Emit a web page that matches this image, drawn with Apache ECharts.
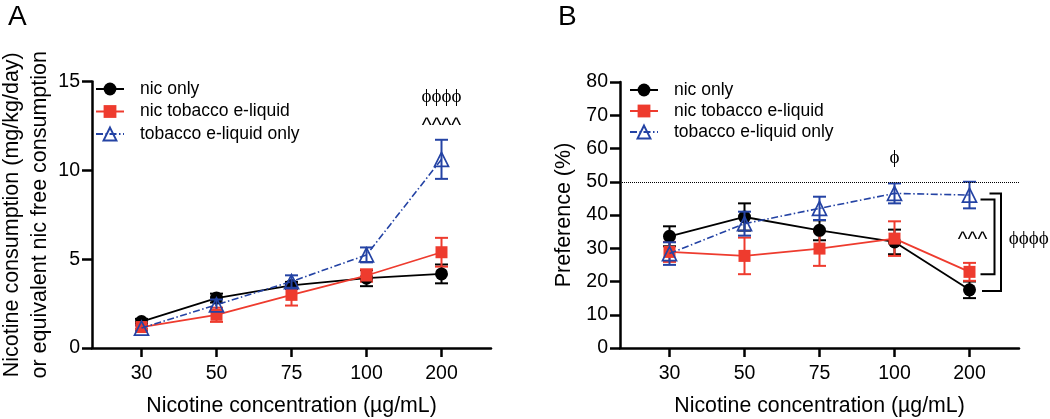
<!DOCTYPE html>
<html>
<head>
<meta charset="utf-8">
<script src="https://cdn.jsdelivr.net/npm/echarts@6/dist/echarts.min.js"></script>
<style>
  html, body { margin: 0; padding: 0; background: #fff; }
  #chart { width: 1050px; height: 419px; }
</style>
</head>
<body>
<div id="chart"></div>
<script>
const concentrations = ['30', '50', '75', '100', '200'];
const groupNames = ['nic only', 'nic tobacco e-liquid', 'tobacco e-liquid only'];

// A: nicotine consumption (mg/kg/day), mean + SEM
const consNic = [1.49, 2.81, 3.52, 3.93, 4.17];
const consNicSem = [0.15, 0.25, 0.2, 0.45, 0.53];
const consNicTob = [1.18, 1.87, 2.99, 4.08, 5.39];
const consNicTobSem = [0.1, 0.4, 0.6, 0.35, 0.81];
const consTob = [1.12, 2.43, 3.74, 5.24, 10.62];
const consTobSem = [0.15, 0.3, 0.35, 0.42, 1.1];

// B: preference (%), mean + SEM
const prefNic = [33.6, 39.4, 35.4, 31.9, 17.5];
const prefNicSem = [3.0, 4.1, 3.0, 3.7, 2.5];
const prefNicTob = [28.9, 27.7, 29.9, 32.9, 22.9];
const prefNicTobSem = [3.0, 5.5, 5.2, 5.2, 2.7];
const prefTob = [28.4, 37.4, 42.0, 46.5, 46.0];
const prefTobSem = [3.4, 3.6, 3.5, 3.0, 4.0];

const chanceLevel = 50;

// significance marks: [x (category index), y value, text]
const marksA = [[4, 14.1, 'ϕϕϕϕ'], [4, 12.47, '^^^^']];
const marksB = [[3, 57, 'ϕ'], [4.04, 32.4, '^^^'], [4.79, 32.9, 'ϕϕϕϕ']];

const font = 'Liberation Sans, Arial, sans-serif';
const symFont = 'Liberation Serif, DejaVu Serif, serif';
const colors = ['#000000', '#ee3b2e', '#2443a4'];
const symbols = ['circle', 'rect', 'triangle'];
const symbolSizes = [13, 12, 14];

function lineSeries(i, values, axis) {
  const s = {
    name: groupNames[i],
    type: 'line',
    xAxisIndex: axis, yAxisIndex: axis,
    data: values.map((v, k) => [k, v]),
    symbol: symbols[i],
    symbolSize: symbolSizes[i],
    z: 3 + i,
    lineStyle: { color: colors[i], width: 1.8 },
    itemStyle: { color: colors[i] }
  };
  if (i === 2) {
    s.lineStyle.type = [7, 2.5, 1.5, 2.5];
    s.lineStyle.width = 1.6;
    s.itemStyle = { color: 'rgba(255,255,255,0)', borderColor: colors[i], borderWidth: 1.7 };
  }
  return s;
}

function errorSeries(i, values, sem, axis) {
  return {
    type: 'custom',
    xAxisIndex: axis, yAxisIndex: axis,
    z: 2 + i,
    clip: false,
    silent: true,
    data: values.map((v, k) => [k, v, sem[k]]),
    encode: { x: 0, y: 1 },
    renderItem: (params, api) => {
      const x = api.value(0), m = api.value(1), e = api.value(2);
      const top = api.coord([x, m + e]);
      const bot = api.coord([x, m - e]);
      const half = 6.5;
      const style = { stroke: colors[i], lineWidth: 2 };
      return {
        type: 'group',
        children: [
          { type: 'line', shape: { x1: top[0], y1: top[1], x2: bot[0], y2: bot[1] }, style },
          { type: 'line', shape: { x1: top[0] - half, y1: top[1], x2: top[0] + half, y2: top[1] }, style },
          { type: 'line', shape: { x1: bot[0] - half, y1: bot[1], x2: bot[0] + half, y2: bot[1] }, style }
        ]
      };
    }
  };
}

function markSeries(marks, axis) {
  return {
    type: 'custom',
    xAxisIndex: axis, yAxisIndex: axis,
    clip: false,
    silent: true,
    z: 10,
    data: marks,
    encode: { x: 0, y: 1 },
    renderItem: (params, api) => {
      const p = api.coord([api.value(0), api.value(1)]);
      const txt = marks[params.dataIndex][2];
      const isPhi = txt.indexOf('ϕ') >= 0;
      return {
        type: 'text',
        x: p[0], y: p[1],
        style: {
          text: txt, fill: '#000',
          font: (isPhi ? 19 : 21) + 'px ' + (isPhi ? symFont : font),
          align: 'center', verticalAlign: 'middle'
        }
      };
    }
  };
}

// brackets at 200 µg/mL in B: tobacco only vs nic tobacco, tobacco only vs nic only
const bracketB = {
  type: 'custom',
  xAxisIndex: 1, yAxisIndex: 1,
  clip: false, silent: true, z: 10,
  data: [[4, prefTob[4], prefNicTob[4], 0], [4, prefTob[4], prefNic[4], 1]],
  encode: { x: 0, y: 1 },
  renderItem: (params, api) => {
    const outer = api.value(3) === 1;
    const a = api.coord([api.value(0), api.value(1)]);
    const b = api.coord([api.value(0), api.value(2)]);
    const xv = a[0] + (outer ? 31.5 : 25);
    const yTop = a[1] + (outer ? -1.5 : 4.5);
    const yBot = b[1] + (outer ? 1.3 : 2.5);
    const xTop = a[0] + (outer ? 20 : 11);
    const xBot = a[0] + (outer ? 12.5 : 11);
    return {
      type: 'polyline',
      shape: { points: [[xTop, yTop], [xv, yTop], [xv, yBot], [xBot, yBot]] },
      style: { stroke: '#000', lineWidth: 2, fill: null }
    };
  }
};

function xAxis(grid) {
  return {
    type: 'value', gridIndex: grid,
    min: -0.66, max: 4.66,
    splitLine: { show: false },
    axisLine: { onZero: false, lineStyle: { color: '#000', width: 2.5 } },
    axisTick: { customValues: [0, 1, 2, 3, 4], length: 9, lineStyle: { color: '#000', width: 2.5 } },
    axisLabel: {
      customValues: [0, 1, 2, 3, 4], formatter: v => concentrations[v],
      color: '#000', fontSize: 19.5, fontFamily: font, margin: 16
    },
    name: 'Nicotine concentration (µg/mL)',
    nameLocation: 'middle', nameGap: 48,
    nameTextStyle: { color: '#000', fontSize: 21.3, fontFamily: font }
  };
}

function yAxis(grid, max, step, name, gap, lh) {
  return {
    type: 'value', gridIndex: grid,
    min: 0, max: max, interval: step,
    splitLine: { show: false },
    axisLine: { onZero: false, lineStyle: { color: '#000', width: 2.5 } },
    axisTick: { length: 10, lineStyle: { color: '#000', width: 2.5 } },
    axisLabel: { color: '#000', fontSize: 19.5, fontFamily: font, margin: 12 },
    name: name,
    nameLocation: 'middle', nameGap: gap,
    nameTextStyle: { color: '#000', fontSize: 21.5, fontFamily: font, lineHeight: lh }
  };
}

function legend(left, top, gap) {
  return {
    data: groupNames,
    orient: 'vertical',
    left: left, top: top,
    padding: 0,
    itemWidth: 28, itemHeight: 16, itemGap: gap,
    selectedMode: false,
    textStyle: { color: '#000', fontSize: 17.5, fontFamily: font, lineHeight: 16, padding: [0, 0, 0, 11] }
  };
}

const nicB = lineSeries(0, prefNic, 1);
nicB.markLine = {
  silent: true, symbol: 'none', label: { show: false },
  lineStyle: { type: 'dotted', color: '#000', width: 1 },
  data: [{ yAxis: chanceLevel }]
};

const chart = echarts.init(document.getElementById('chart'));
chart.setOption({
  animation: false,
  backgroundColor: '#fff',
  grid: [
    { left: 92, right: 559, top: 81.5, bottom: 71, outerBoundsMode: 'none' },
    { left: 620, right: 31, top: 82, bottom: 71, outerBoundsMode: 'none' }
  ],
  xAxis: [xAxis(0), xAxis(1)],
  yAxis: [
    yAxis(0, 15, 5, 'Nicotine consumption (mg/kg/day)\nor equivalent nic free consumption', 38, 28),
    yAxis(1, 80, 10, 'Preference (%)', 44, 24)
  ],
  legend: [legend(95, 80, 4.5), legend(629, 81, 3)],
  graphic: [
    { type: 'text', left: 8, top: 3, style: { text: 'A', font: '28px ' + font, fill: '#000' } },
    { type: 'text', left: 558, top: 3, style: { text: 'B', font: '28px ' + font, fill: '#000' } }
  ],
  series: [
    errorSeries(0, consNic, consNicSem, 0),
    errorSeries(1, consNicTob, consNicTobSem, 0),
    errorSeries(2, consTob, consTobSem, 0),
    lineSeries(0, consNic, 0),
    lineSeries(1, consNicTob, 0),
    lineSeries(2, consTob, 0),
    errorSeries(0, prefNic, prefNicSem, 1),
    errorSeries(1, prefNicTob, prefNicTobSem, 1),
    errorSeries(2, prefTob, prefTobSem, 1),
    nicB,
    lineSeries(1, prefNicTob, 1),
    lineSeries(2, prefTob, 1),
    markSeries(marksA, 0),
    markSeries(marksB, 1),
    bracketB
  ]
});
</script>
</body>
</html>
